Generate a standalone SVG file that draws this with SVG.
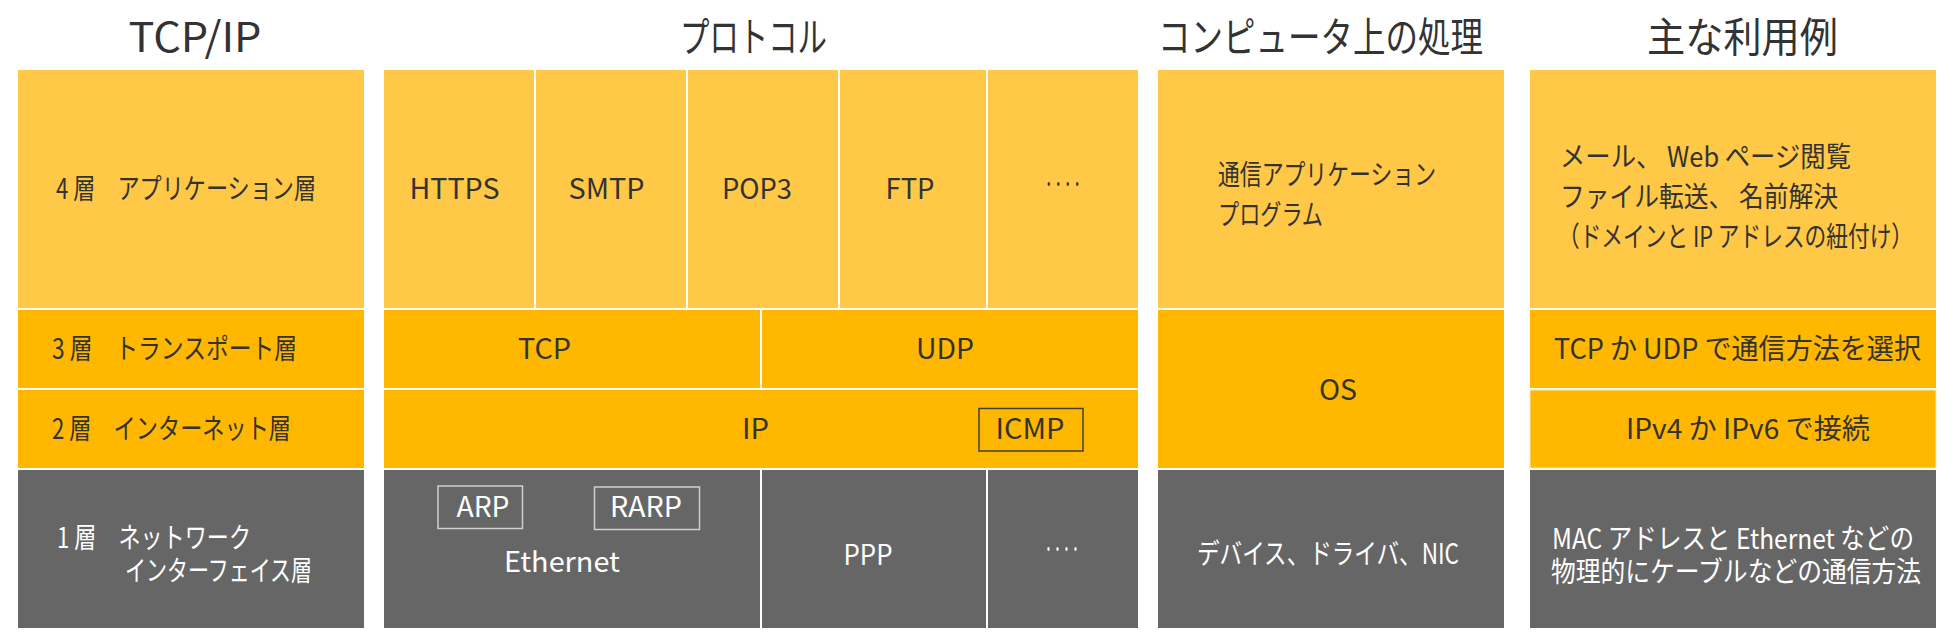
<svg xmlns="http://www.w3.org/2000/svg" width="1960" height="640" viewBox="0 0 1960 640">
<style>
text{font-family:"Noto Sans CJK JP","Noto Sans",sans-serif;}
.hd{font-size:41px;fill:#333333;text-anchor:middle;}
.bd{font-size:28px;}
.dk{fill:#333333;}
.wt{fill:#ffffff;}
.m{text-anchor:middle;}
.y1{fill:#FFC846;}
.y2{fill:#FFB700;}
.g{fill:#666666;}
.box{fill:none;stroke-width:1.5;}
</style>
<rect width="1960" height="640" fill="#ffffff"/>
<g id="headers">
<text class="hd" x="195" y="52" textLength="133" lengthAdjust="spacingAndGlyphs">TCP/IP</text>
<text class="hd" x="753.5" y="52" textLength="147" lengthAdjust="spacingAndGlyphs">プロトコル</text>
<text class="hd" x="1320.5" y="52" textLength="325" lengthAdjust="spacingAndGlyphs">コンピュータ上の処理</text>
<text class="hd" x="1742.5" y="52" textLength="191" lengthAdjust="spacingAndGlyphs">主な利用例</text>
</g>
<g id="layer4">
<rect class="y1" x="18" y="70" width="346" height="238"/>
<text class="bd dk" x="56" y="199" textLength="260" lengthAdjust="spacingAndGlyphs">4 層　アプリケーション層</text>
</g>
<g id="layer3">
<rect class="y2" x="18" y="310" width="346" height="78"/>
<text class="bd dk" x="52" y="359" textLength="245" lengthAdjust="spacingAndGlyphs">3 層　トランスポート層</text>
</g>
<g id="layer2">
<rect class="y2" x="18" y="390" width="346" height="78"/>
<text class="bd dk" x="52" y="439" textLength="239" lengthAdjust="spacingAndGlyphs">2 層　インターネット層</text>
</g>
<g id="layer1">
<rect class="g" x="18" y="470" width="346" height="158"/>
<text class="bd wt" x="57" y="548" textLength="194" lengthAdjust="spacingAndGlyphs">1 層　ネットワーク</text>
<text class="bd wt" x="125" y="581" textLength="187" lengthAdjust="spacingAndGlyphs">インターフェイス層</text>
</g>
<g id="https">
<rect class="y1" x="384" y="70" width="150" height="238"/>
<text class="bd dk m" x="454.5" y="199" textLength="90" lengthAdjust="spacingAndGlyphs">HTTPS</text>
</g>
<g id="smtp">
<rect class="y1" x="536" y="70" width="150" height="238"/>
<text class="bd dk m" x="606.5" y="199" textLength="76" lengthAdjust="spacingAndGlyphs">SMTP</text>
</g>
<g id="pop3">
<rect class="y1" x="688" y="70" width="150" height="238"/>
<text class="bd dk m" x="757" y="199" textLength="70" lengthAdjust="spacingAndGlyphs">POP3</text>
</g>
<g id="ftp">
<rect class="y1" x="840" y="70" width="146" height="238"/>
<text class="bd dk m" x="910" y="199" textLength="49" lengthAdjust="spacingAndGlyphs">FTP</text>
</g>
<g id="app-etc">
<rect class="y1" x="988" y="70" width="150" height="238"/>
<text class="bd dk m" x="1063" y="194" textLength="38" lengthAdjust="spacingAndGlyphs">····</text>
</g>
<g id="tcp">
<rect class="y2" x="384" y="310" width="376" height="78"/>
<text class="bd dk m" x="544.5" y="359" textLength="53" lengthAdjust="spacingAndGlyphs">TCP</text>
</g>
<g id="udp">
<rect class="y2" x="762" y="310" width="376" height="78"/>
<text class="bd dk m" x="945" y="359" textLength="58" lengthAdjust="spacingAndGlyphs">UDP</text>
</g>
<g id="ip">
<rect class="y2" x="384" y="390" width="754" height="78"/>
<text class="bd dk m" x="755.5" y="439" textLength="27" lengthAdjust="spacingAndGlyphs">IP</text>
</g>
<g id="icmp">
<rect class="box" x="979" y="408.5" width="104" height="42.5" stroke="#404040"/>
<text class="bd dk m" x="1030" y="439" textLength="69" lengthAdjust="spacingAndGlyphs">ICMP</text>
</g>
<g id="ethernet">
<rect class="g" x="384" y="470" width="376" height="158"/>
<text class="bd wt m" x="562" y="572" textLength="116" lengthAdjust="spacingAndGlyphs">Ethernet</text>
</g>
<g id="arp">
<rect class="box" x="438" y="486" width="84.5" height="42.5" stroke="#cfcfcf"/>
<text class="bd wt m" x="483" y="517" textLength="53" lengthAdjust="spacingAndGlyphs">ARP</text>
</g>
<g id="rarp">
<rect class="box" x="594.5" y="487" width="105" height="42.5" stroke="#cfcfcf"/>
<text class="bd wt m" x="646" y="517" textLength="72" lengthAdjust="spacingAndGlyphs">RARP</text>
</g>
<g id="ppp">
<rect class="g" x="762" y="470" width="224" height="158"/>
<text class="bd wt m" x="868" y="565" textLength="49" lengthAdjust="spacingAndGlyphs">PPP</text>
</g>
<g id="link-etc">
<rect class="g" x="988" y="470" width="150" height="158"/>
<text class="bd wt m" x="1062" y="559" textLength="36" lengthAdjust="spacingAndGlyphs">····</text>
</g>
<g id="comp-app">
<rect class="y1" x="1158" y="70" width="346" height="238"/>
<text class="bd dk" x="1218" y="185" textLength="218" lengthAdjust="spacingAndGlyphs">通信アプリケーション</text>
<text class="bd dk" x="1218" y="225" textLength="105" lengthAdjust="spacingAndGlyphs">プログラム</text>
</g>
<g id="comp-os">
<rect class="y2" x="1158" y="310" width="346" height="158"/>
<text class="bd dk m" x="1338" y="400" textLength="38" lengthAdjust="spacingAndGlyphs">OS</text>
</g>
<g id="comp-dev">
<rect class="g" x="1158" y="470" width="346" height="158"/>
<text class="bd wt" x="1197" y="564" textLength="262" lengthAdjust="spacingAndGlyphs">デバイス、ドライバ、NIC</text>
</g>
<g id="use-app">
<rect class="y1" x="1530" y="70" width="406" height="238"/>
<text class="bd dk" x="1560" y="167" textLength="291" lengthAdjust="spacingAndGlyphs">メール、 Web ページ閲覧</text>
<text class="bd dk" x="1560" y="207" textLength="278" lengthAdjust="spacingAndGlyphs">ファイル転送、 名前解決</text>
<text class="bd dk" x="1558" y="247" textLength="355" lengthAdjust="spacingAndGlyphs">（ドメインと IP アドレスの紐付け）</text>
</g>
<g id="use-transport">
<rect class="y2" x="1530" y="310" width="406" height="78"/>
<text class="bd dk" x="1554" y="359" textLength="367" lengthAdjust="spacingAndGlyphs">TCP か UDP で通信方法を選択</text>
</g>
<g id="use-internet">
<rect class="y2" x="1530" y="390" width="406" height="78" stroke="#f3e6c0" stroke-width="1"/>
<text class="bd dk" x="1626" y="439" textLength="244" lengthAdjust="spacingAndGlyphs">IPv4 か IPv6 で接続</text>
</g>
<g id="use-link">
<rect class="g" x="1530" y="470" width="406" height="158"/>
<text class="bd wt" x="1552" y="549" textLength="362" lengthAdjust="spacingAndGlyphs">MAC アドレスと Ethernet などの</text>
<text class="bd wt" x="1551" y="582" textLength="370" lengthAdjust="spacingAndGlyphs">物理的にケーブルなどの通信方法</text>
</g>
</svg>
